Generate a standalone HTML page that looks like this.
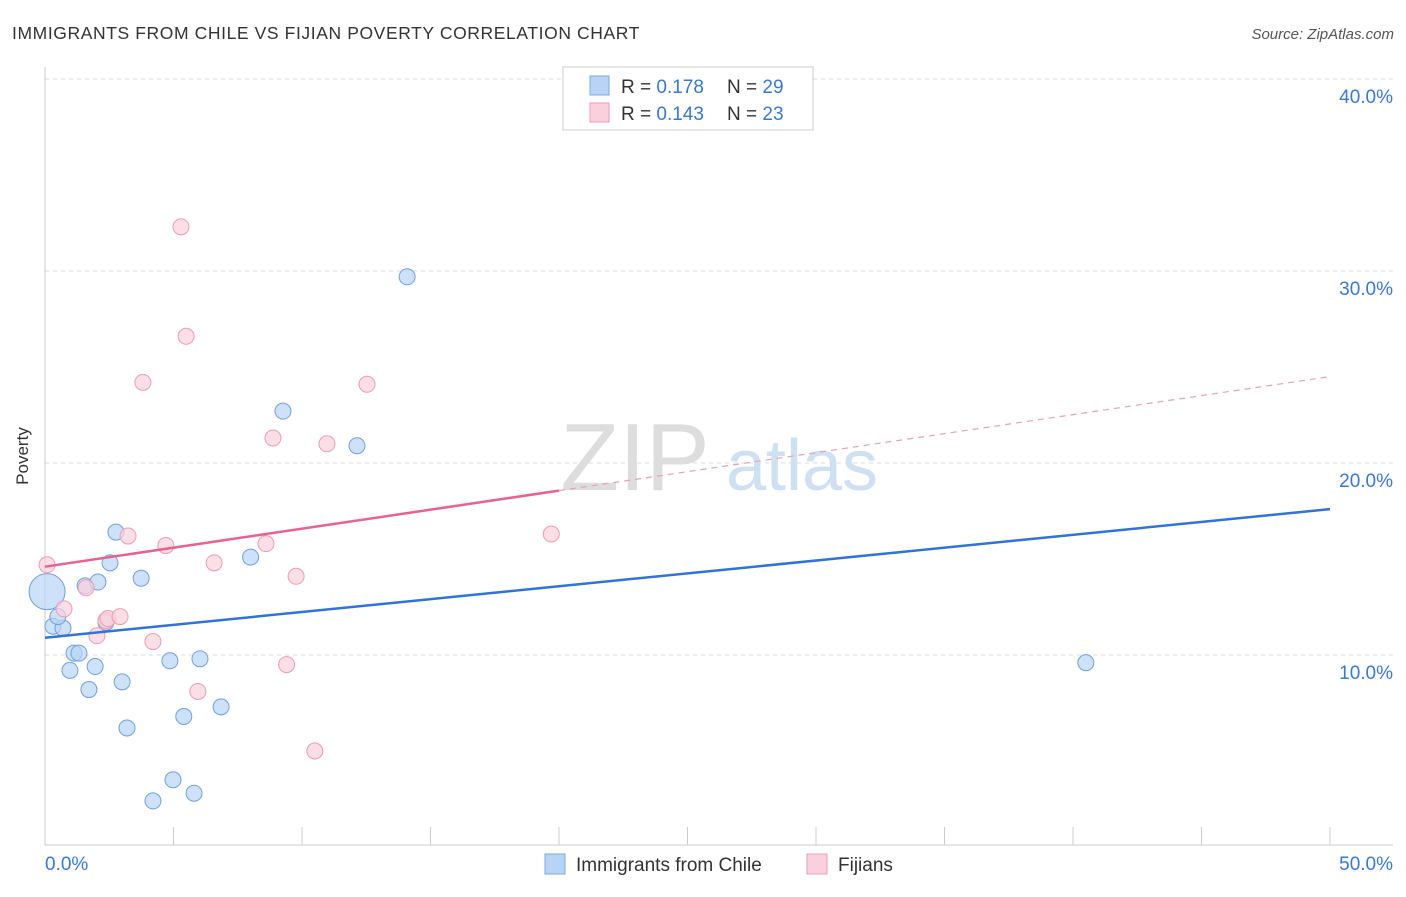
<!DOCTYPE html>
<html><head><meta charset="utf-8"><style>
body{margin:0;background:#fff;font-family:"Liberation Sans",sans-serif;}
svg text{font-family:"Liberation Sans",sans-serif;}
</style></head><body>
<svg width="1406" height="892" xmlns="http://www.w3.org/2000/svg">
<text x="12" y="39" font-size="17.5" fill="#333" letter-spacing="0.6">IMMIGRANTS FROM CHILE VS FIJIAN POVERTY CORRELATION CHART</text>
<text x="1394" y="39" font-size="15" fill="#555" font-style="italic" text-anchor="end">Source: ZipAtlas.com</text>
<g>
<text x="635" y="490" font-size="96" font-family="Liberation Serif,serif" fill="#ddd" text-anchor="middle">ZIP</text>
<text x="802" y="490" font-size="72" fill="#cfe0f3" text-anchor="middle">atlas</text>
</g>
<g id="grid"></g><g id="marks"></g>
<text x="28" y="456" font-size="17" fill="#333" transform="rotate(-90 28 456)" text-anchor="middle">Poverty</text>
<g>
<rect x="563" y="67" width="250" height="63" fill="#fff" stroke="#ccc"/>
<rect x="590" y="76" width="19" height="19" fill="#b8d4f5" stroke="#7aaae6"/>
<text x="621" y="93" font-size="19" fill="#333">R = <tspan fill="#3a78d8">0.178</tspan></text>
<text x="727" y="93" font-size="19" fill="#333">N = <tspan fill="#3a78d8">29</tspan></text>
<rect x="590" y="103" width="19" height="19" fill="#fbd0dd" stroke="#f09ab5"/>
<text x="621" y="120" font-size="19" fill="#333">R = <tspan fill="#3a78d8">0.143</tspan></text>
<text x="727" y="120" font-size="19" fill="#333">N = <tspan fill="#3a78d8">23</tspan></text>
</g>
<g>
<rect x="545" y="854" width="20" height="20" fill="#b8d4f5" stroke="#7aaae6"/>
<text x="576" y="871" font-size="19" fill="#333">Immigrants from Chile</text>
<rect x="807" y="854" width="20" height="20" fill="#fbd0dd" stroke="#f09ab5"/>
<text x="838" y="871" font-size="19" fill="#333">Fijians</text>
</g>
</svg>
<script>
const yTicks=[10,20,30,40];
const xTickLabels=["0.0%","50.0%"];
const blueX=[0.08,0.31,0.7,0.5,0.97,1.13,1.32,1.56,1.71,1.95,2.06,2.37,2.53,2.76,3.0,3.19,3.74,4.2,4.86,4.98,5.4,5.8,6.03,6.85,8.0,9.26,12.14,14.09,40.5];
const blueY=[13.3,11.5,11.4,12.0,9.2,10.1,10.1,13.6,8.2,9.4,13.8,11.7,14.8,16.4,8.6,6.2,14.0,2.4,9.7,3.5,6.8,2.8,9.8,7.3,15.1,22.7,20.9,29.7,9.6];
const pinkX=[0.08,0.74,1.6,2.02,2.37,2.45,2.92,3.23,3.81,4.2,4.7,5.29,5.49,5.95,6.58,8.6,8.87,9.4,9.77,10.5,10.97,12.53,19.7];
const pinkY=[14.7,12.4,13.5,11.0,11.8,11.9,12.0,16.2,24.2,10.7,15.7,32.3,26.6,8.1,14.8,15.8,21.3,9.5,14.1,5.0,21.0,24.1,16.3];
const blueTrend=[10.9,17.6];
const pinkTrend=[14.6,24.5];
const pinkSolidEnd=20;
const NS="http://www.w3.org/2000/svg";
const X=v=>45+v/50*1285, Y=v=>847-v*19.2;
function mk(t,a,p){const e=document.createElementNS(NS,t);for(const k in a)e.setAttribute(k,a[k]);p.appendChild(e);return e;}
const g=document.getElementById('grid'), m=document.getElementById('marks');
yTicks.forEach(v=>{
 const l=mk('line',{x1:45,x2:1393,y1:Y(v),y2:Y(v),stroke:'#ddd','stroke-dasharray':'4,4'},g);
 
 
 const t=mk('text',{x:1393,y:Y(v)+24,'font-size':19,fill:'#3a78d8','text-anchor':'end'},g);t.textContent=v.toFixed(1)+'%';
 
 
});
mk('line',{x1:45,x2:45,y1:67,y2:845,stroke:'#ccc'},g);
mk('line',{x1:45,x2:1393,y1:845,y2:845,stroke:'#ccc'},g);
for(let i=0;i<=10;i++){mk('line',{x1:X(i*5),x2:X(i*5),y1:827,y2:845,stroke:'#ccc'},g);}
const xl=mk('text',{x:45,y:870,'font-size':19,fill:'#3a78d8'},g);xl.textContent=xTickLabels[0];


const xr=mk('text',{x:1393,y:870,'font-size':19,fill:'#3a78d8','text-anchor':'end'},g);xr.textContent=xTickLabels[1];


blueX.forEach((x,i)=>{const c=mk('circle',{cx:X(x),cy:Y(blueY[i]),r:i==0?18:8,fill:'#b8d4f5','fill-opacity':0.7,stroke:'#6fa0e0','stroke-width':1},m);
 
 });
pinkX.forEach((x,i)=>{const c=mk('circle',{cx:X(x),cy:Y(pinkY[i]),r:8,fill:'#fbd0dd','fill-opacity':0.7,stroke:'#f09ab5','stroke-width':1},m);
 
 });
const bl=mk('line',{x1:X(0),y1:Y(blueTrend[0]),x2:X(50),y2:Y(blueTrend[1]),stroke:'#2f74d6','stroke-width':2.5},m);


const pe=pinkTrend[0]+(pinkTrend[1]-pinkTrend[0])*pinkSolidEnd/50;
const pl=mk('line',{x1:X(0),y1:Y(pinkTrend[0]),x2:X(pinkSolidEnd),y2:Y(pe),stroke:'#e8628d','stroke-width':2.5},m);


const pd=mk('line',{x1:X(pinkSolidEnd),y1:Y(pe),x2:X(50),y2:Y(pinkTrend[1]),stroke:'#e8a0b8','stroke-width':1.2,'stroke-dasharray':'6,5'},m);


</script>
</body></html>
